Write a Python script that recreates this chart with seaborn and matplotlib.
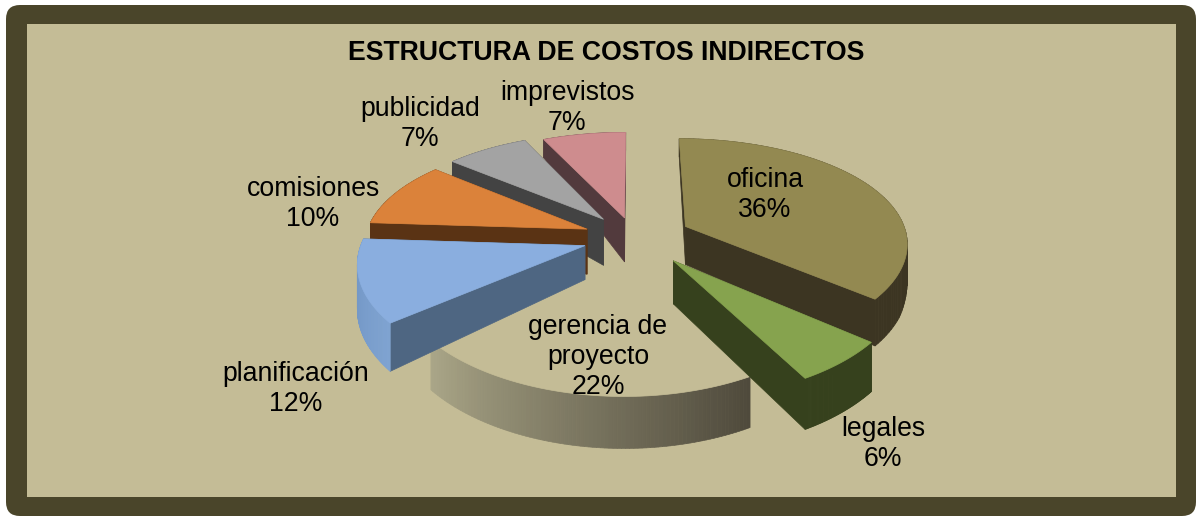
import numpy as np
import seaborn as sns
import matplotlib
import matplotlib.pyplot as plt
from matplotlib.patches import FancyBboxPatch, Polygon, Rectangle
matplotlib.use('Agg')

# chart data
categories = ['oficina', 'legales', 'gerencia de\nproyecto', 'planificación', 'comisiones', 'publicidad', 'imprevistos']
values = [36, 6, 22, 12, 10, 7, 7]
title = 'ESTRUCTURA DE COSTOS INDIRECTOS'

# styles
explode = [0.26, 0.27, 0.2, 0.23, 0.23, 0.23, 0.2]
top_colors = ['#938951', '#86A34E', '#C4BC96', '#8AAEDF', '#DB823A', '#A3A3A3', '#CE8C8E']
edge_colors = ['#3C3522', '#36411D', '#C4BC96', '#4E6682', '#5A3314', '#434343', '#523A3D']
arc_colors = [('#3C3522', '#3C3522'), ('#36411D', '#36411D'), ('#AAA688', '#4F4A3C'),
              ('#6C90BE', '#7FA3D2'), ('#5A3314', '#5A3314'), ('#434343', '#434343'), ('#523A3D', '#523A3D')]
apex_drop = [38, 43, 44, 34, 45, 46, 44]
draw_order = [2, 6, 5, 4, 3, 0, 1]
label_pos = [(765, 195), (883, 444), (598, 357), (296, 389), (313, 204), (420, 124), (567, 108)]
bg = '#C4BC96'
frame = '#4A452A'

# projection of the pie plane
cx, cy = 634, 238
rx, ry = 222, 106
persp_x = 0.14
persp_y = 0.167


def project(x, y):
    return cx + rx * x / (1 + persp_x * y), cy - ry * y / (1 + persp_y * y)


def drop(y):
    # wall height, shorter at the back of the pie
    return np.interp(y, [-1.2, -0.3, 0.4, 1.2], [52, 45, 20, 18])


def wall(ax, x0, y0, x1, y1, color, d0=None):
    px0, py0 = project(x0, y0)
    px1, py1 = project(x1, y1)
    d0 = drop(y0) if d0 is None else d0
    pts = [(px0, py0), (px1, py1), (px1, py1 + drop(y1)), (px0, py0 + d0)]
    ax.add_patch(Polygon(pts, closed=True, fc=color, ec=color, lw=0.5))


sns.set_theme(style='white')
plt.rcParams['font.family'] = ['Liberation Sans', 'DejaVu Sans']

fig = plt.figure(figsize=(12, 5.17), dpi=100, facecolor='white')

# the pie gives the wedge geometry, it is drawn again in perspective
ax_pie = fig.add_axes([0, 0, 0.1, 0.1])
wedges, _ = ax_pie.pie(values, explode=explode, startangle=90, counterclock=False)
ax_pie.set_visible(False)

ax = fig.add_axes([0, 0, 1, 1])
ax.set_xlim(0, 1200)
ax.set_ylim(517, 0)
ax.axis('off')

ax.add_patch(FancyBboxPatch((18, 17), 1166, 487, boxstyle='round,pad=12,rounding_size=14', fc=frame, ec='none'))
ax.add_patch(Rectangle((27, 24), 1149, 473, fc=bg, ec='none'))

for i in draw_order:
    w = wedges[i]
    (x0, y0), r = w.center, w.r
    t = np.radians(np.linspace(w.theta1, w.theta2, 90))
    xs = x0 + r * np.cos(t)
    ys = y0 + r * np.sin(t)

    if i != 2:
        wall(ax, x0, y0, xs[0], ys[0], edge_colors[i], apex_drop[i])
        wall(ax, x0, y0, xs[-1], ys[-1], edge_colors[i], apex_drop[i])

    shades = sns.blend_palette(arc_colors[i], len(t) - 1)
    order = np.argsort(xs[:-1])
    for n, k in enumerate(order):
        wall(ax, xs[k], ys[k], xs[k + 1], ys[k + 1], shades[n])

    px, py = project(np.r_[x0, xs], np.r_[y0, ys])
    ax.add_patch(Polygon(np.c_[px, py], closed=True, fc=top_colors[i], ec=top_colors[i], lw=0.5))

for name, val, (lx, ly) in zip(categories, values, label_pos):
    ax.text(lx, ly, f'{name}\n{val}%', ha='center', va='center', fontsize=19.2, color='black', linespacing=1.18)

ax.text(606, 53, title, ha='center', va='center', fontsize=19.2, fontweight='bold', color='black')

fig.savefig('out.png', dpi=100)
